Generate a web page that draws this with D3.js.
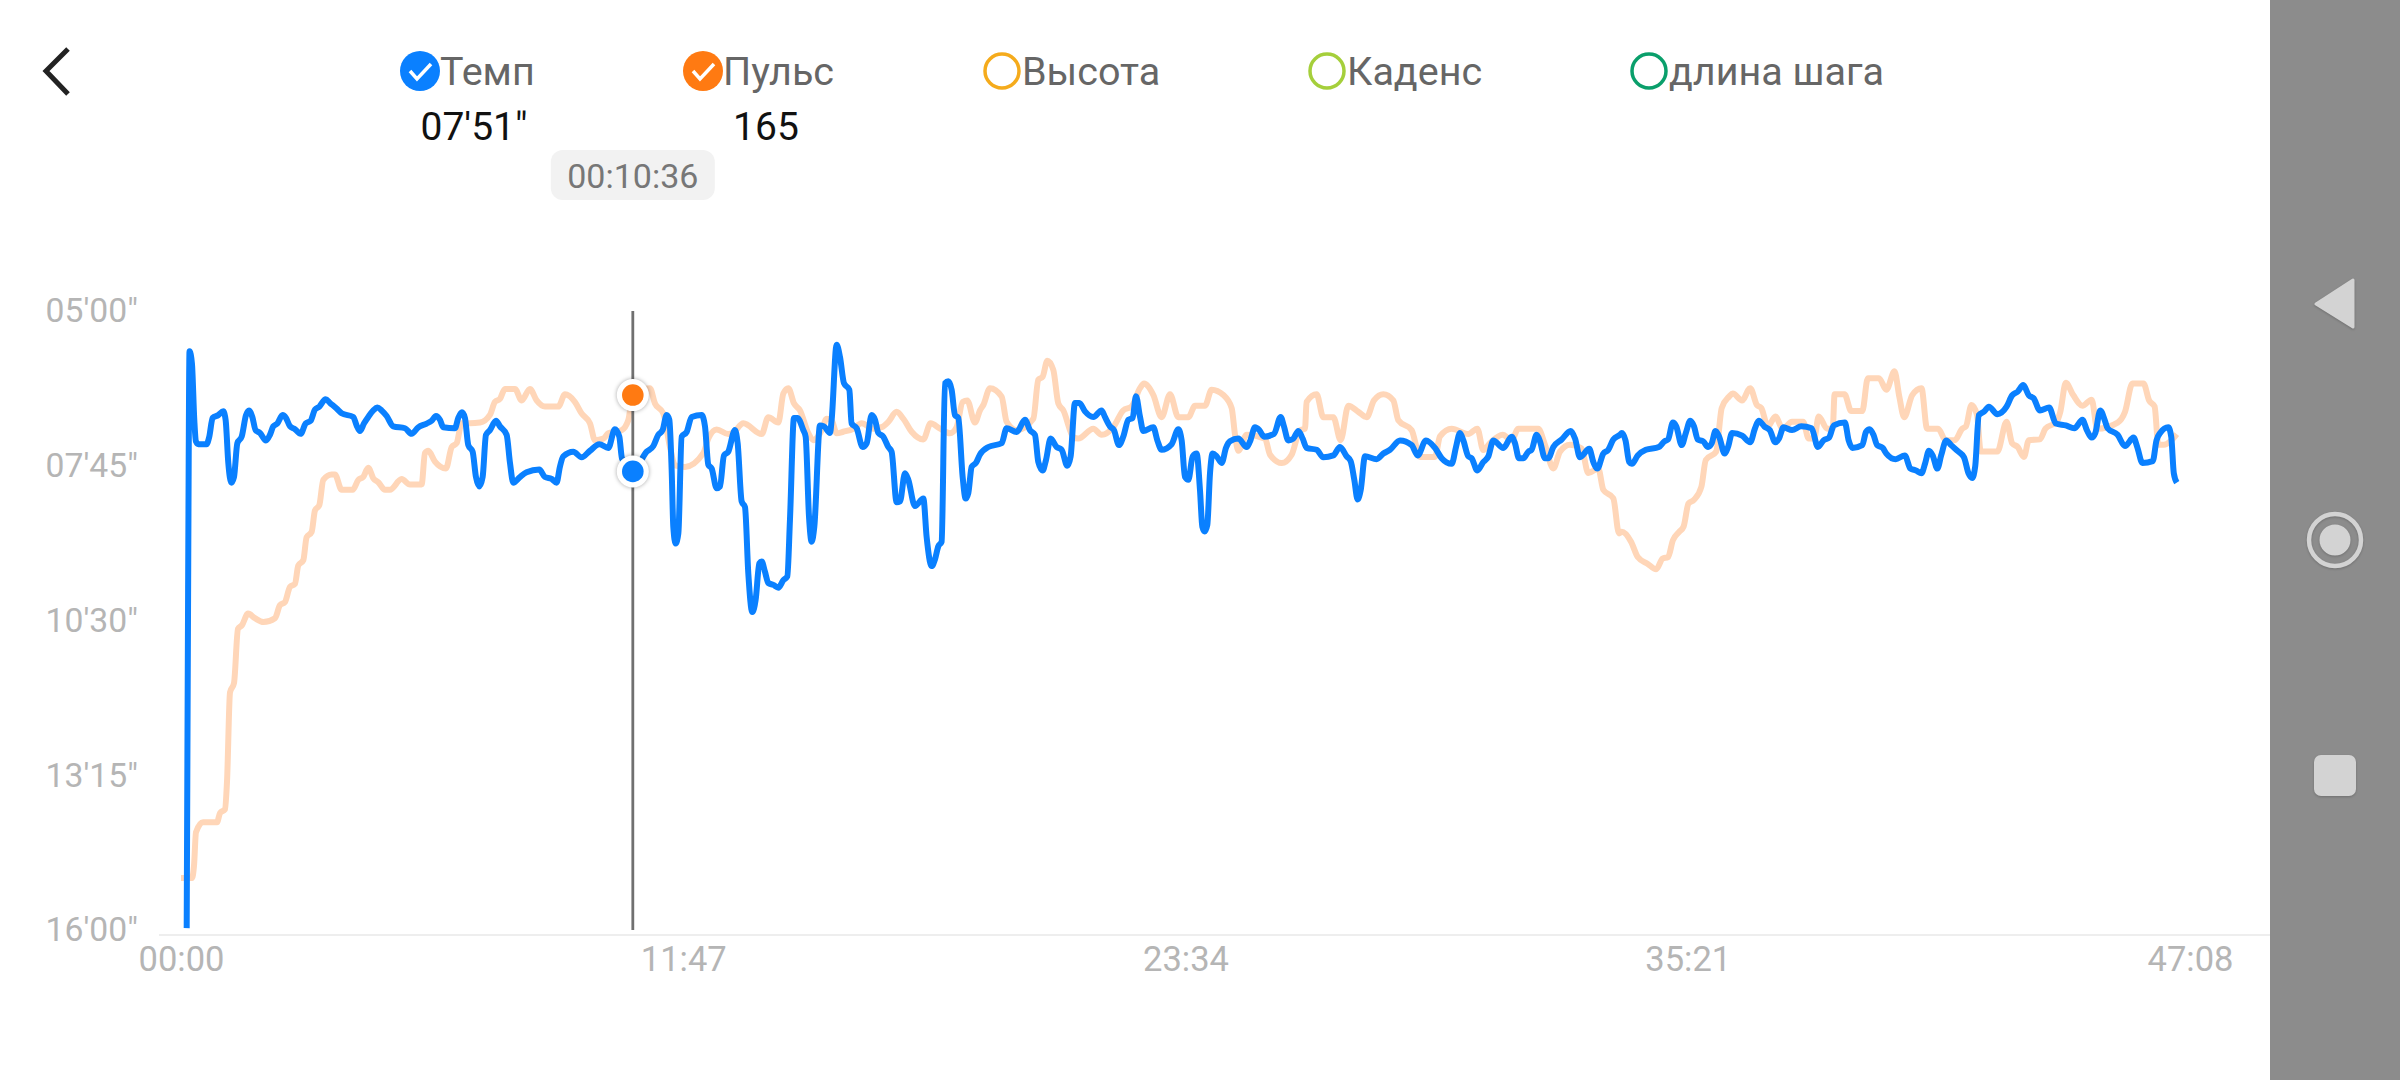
<!DOCTYPE html>
<html>
<head>
<meta charset="utf-8">
<title>Темп и пульс</title>
<script src="https://cdn.jsdelivr.net/npm/d3@7"></script>
<style>
  html, body { margin: 0; padding: 0; background: #fff; }
  svg { display: block; }
  text { font-family: Roboto, sans-serif; }
</style>
</head>
<body>
<script>
// legend
const legendLabels = ["Темп", "Пульс", "Высота", "Каденс", "длина шага"];
const legendColors = ["#0a80ff", "#ff7a12", "#f5ab1c", "#a5cf3b", "#0a9f6b"];
const legendChecked = [true, true, false, false, false];
const legendValues = ["07'51\"", "165", "", "", ""];

// axes, all times in seconds
const paceTicks = [300, 465, 630, 795, 960];
const timeTicks = [0, 707, 1414, 2121, 2828];

// cursor
const cursorTime = 636;
const cursorPace = 471;
const cursorPulse = 165;
const cursorLabel = "00:10:36";

// pace: seconds per km
const paceTimes = [8,10,12,15.4,18.7,21,24.4,36,39.8,44.5,52.5,59.5,62.8,66.6,70.8,74.6,79.3,85.4,91.5,95.7,100.4,105,111.2,119.6,125.2,129.9,135.6,143,147.8,153.4,160.4,168.4,175.4,182.5,188.6,194.7,203.6,209.7,219,226.1,242.5,247.2,251.9,257.5,263.6,270.7,276.3,282.4,289.5,298.8,315.3,324.6,334,345.8,352.8,358.9,364.5,369.2,385.6,390.3,395.5,399.7,404.4,410.5,415.2,419.9,424.6,429.3,434.9,443.4,449,458.4,463.1,467.7,477.1,486.5,504.3,512.3,521.7,528.7,533.4,538.1,552.2,563.9,575.7,588.8,601.5,610.8,617,620.7,636,
  655.5,664.9,671.9,678,683.6,687.4,690.7,693,696.3,700.1,704.8,711.8,718.8,732.9,737.6,742.3,747,754,758.7,764.3,770.4,779.8,783.6,789.2,793.9,798.6,804.2,808.9,814.1,817.4,822,826.7,833.8,840.8,847.9,853.5,857.2,862.9,867.6,876,879.3,884,887.7,891.5,899.5,905.1,913.6,915.9,922.9,927.6,933.2,940.8,944,951.1,959.5,965.2,972.2,976.9,981.6,988.6,995.7,1000.3,1007.4,1012.1,1019.1,1023.8,1033.2,1045,1049.6,1056.7,1061.3,1066,1070.7,1075.4,1080.1,1084.8,1089.5,1094.2,1100.3,1104.5,1108.3,1113,1119,1124.7,1136.4,1155.2,1162.2,1176.3,1188,1195,1202.1,1206.8,1212.9,1217.6,1224.1,1232.6,1239.6,1247.6,1252.3,1258.4,1264.5,1272.5,1284.2,1295.9,1300.6,1307.7,1313.3,1320.3,1326.4,1333.5,1339.6,1344.3,
  1350,1354.6,1368.7,1374.4,1380.4,1394.5,1403.9,1408.6,1413.3,1418,1424.1,1429.7,1434.4,1437.7,1441,1444.7,1448.5,1452.2,1457.9,1464.9,1471,1476.6,1488.4,1500.1,1504.8,1511.8,1517.9,1524.5,1538.6,1548,1552.6,1558.7,1565.8,1572.8,1578.9,1584.5,1598.6,1608,1622.1,1631.5,1640.9,1646.5,1651.6,1656.3,1660.6,1666.7,1683.1,1692.5,1701.9,1715.9,1732.4,1740.8,1752.5,1765.2,1774.6,1788.7,1794.8,1800.4,1805.1,1812.1,1816.8,1824.8,1833.2,1840.3,1847.3,1861.4,1873.1,1877.8,1883.4,1889.5,1896.6,1901.2,1908.3,1913,1920,1924.7,1931.8,1943.5,1956.1,1962.3,1969.3,1982.4,1988.1,1993.7,2002.1,2009.2,2016.2,2025.6,
  2028.2,2033.4,2038.6,2042.3,2050.6,2062,2080.3,2088.1,2093.3,2100.1,2104.8,2112.6,2118.3,2124.6,2129.8,2135,2142.8,2149.6,2154.8,2160,2165.2,2173,2177.7,2183.4,2197.5,2208.9,2215.7,2220.9,2228.7,2236.5,2244.3,2249.5,2255.8,2267.8,2280.8,2295.4,2304.2,2312,2319.9,2326.6,2342.2,2347.5,2352.7,2366.7,2371.9,2377.1,2382.4,2387.6,2395.4,2400.6,2413.6,2426.6,2434.4,2442.2,2450,2455.3,2460.5,2465.7,2472.4,2477.7,2484.9,2491.7,2502.1,2509.9,2516.2,2521.4,2525.6,2530.8,2538.6,2544.8,2556.8,2569.8,2577.6,2585.5,2593.3,2601.1,2607.9,2616.7,2629.7,2639.1,2653.2,2665.2,2676.6,2682.8,2689.6,2694.8,2701.6,2707.8,2712,2726.1,2736.5,2748.5,2753.7,2761,2775.6,2780.8,2786,2797.4,2801.6,2805.2,2809.4];
const paceValues = [958,600,343,356,416,439,442,442,434,414,411,407,416,462,483,477,441,434,411,406,413,427,430,438,432,423,420,411,414,423,426,431,420,417,405,402,394,398,404,409,413,422,428,420,413,406,403,406,412,423,425,431,424,420,417,412,416,424,425,414,408,414,443,450,477,487,477,432,427,417,423,432,462,483,477,472,469,477,479,483,466,455,450,456,449,442,446,426,434,457,471,
  450,444,432,427,411,416,470,530,548,537,434,429,413,411,423,464,468,489,487,454,450,427,441,503,509,580,621,608,569,567,578,590,592,595,587,583,523,414,414,427,434,519,546,530,422,423,430,416,336,349,377,384,420,425,445,441,411,416,430,434,445,450,504,503,473,480,508,500,541,572,565,551,546,377,375,384,411,414,477,500,494,466,462,453,445,441,425,429,416,427,432,461,470,459,436,445,448,465,455,398,398,407,413,406,413,423,427,443,434,416,414,391,
  413,428,424,438,448,442,426,438,477,480,455,452,491,530,535,528,473,452,455,462,446,439,436,445,439,424,427,434,431,413,423,438,436,428,436,446,448,456,454,445,455,460,480,501,491,455,458,452,448,438,443,454,438,446,457,463,445,430,438,455,457,470,461,455,438,446,434,441,457,457,450,448,432,439,457,457,445,437,428,436,456,447,461,468,452,448,437,432,
  430,438,461,463,454,448,445,439,437,419,423,443,430,417,423,437,439,445,441,428,434,452,445,430,433,440,425,417,423,427,440,436,424,427,423,425,445,438,435,422,419,438,446,443,429,426,432,443,446,452,458,454,468,470,473,462,449,454,468,454,438,443,450,456,473,478,466,411,407,402,410,402,390,386,379,390,393,406,403,420,422,425,416,427,435,430,406,416,425,432,444,435,445,462,460,438,430,424,434,473,483];

// pulse: beats per minute on a hidden scale
const pulseTimes = [0,15.5,18.3,21.1,31,50.7,54.9,61.9,64.8,69,74.6,80.2,85.9,94.3,104.1,115.9,132.3,139.3,146.3,153.4,160.4,165.1,172.2,176.8,183.9,188.6,194.7,200.3,212,216.7,226.1,241.6,249.6,256.6,263.6,270.7,277.7,287.1,294.1,310.6,322.3,338.7,343.4,348.1,357.5,373,381,388,395,406.8,420.8,434.9,441.9,449,456,470.1,479.5,491.2,500.6,512.3,531.1,540.5,554.5,563.9,575.7,582.7,594.4,601.5,620.2,629.6,636,660,
  667.2,678.9,688.3,695.4,709.4,735.2,742.3,754,770.4,777.5,791.6,817.4,826.7,840.8,847.9,854.9,862.9,871.3,883,890.1,901.8,908.9,915.9,922.9,932.3,946.4,958.1,974.5,986.3,995.7,1007.4,1016.8,1028.5,1044.9,1055.2,1068.4,1082.5,1091.8,1100.3,1106.8,1117.6,1124.7,1129.4,1138.8,1155.2,1162.2,1176.3,1199.8,1206.8,1212.9,1219.5,1227.9,1235,1242,1256.1,1263.1,1284.2,1295.9,1312.4,1326.4,1338.2,1349.9,
  1355.6,1361.7,1368.7,1380.4,1392.2,1403.9,1418,1427.4,1441.4,1450.8,1467.3,1479,1483.7,1488.4,1500.1,1525.9,1533,1549.4,1563.4,1575.2,1582.2,1584.5,1598.6,1608,1622.1,1632.4,1643.2,1657.3,1669,1679.3,1692.5,1706.5,1713.6,1732.4,1744.1,1765.2,1772.2,1788.7,1812.1,1824.8,1833.2,1842.6,1860.4,1873.1,1882.5,1910.6,1920,1931.8,1941.1,1955.2,1971.6,1981,1995.1,2002.1,2016.2,2024.2,
  2028.2,2041.2,2050.6,2064.7,2076.6,2085.5,2093.3,2100.1,2108.9,2115.2,2122,2129.8,2140.2,2146.4,2161,2168.8,2179.2,2184.4,2197.5,2208.9,2218.3,2224.5,2233.9,2244.3,2254.8,2267.8,2283.4,2291.2,2299,2305.3,2317.2,2325.1,2327.7,2341.7,2351.1,2366.7,2374.5,2390.2,2400.6,2412,2418.8,2425.6,2437,2450,2457.9,2473.5,2483.9,2496.9,2507.3,2512.6,2520.4,2528.2,2533.4,2556.8,2569.8,2577.6,2585.5,2594.3,2601.1,2616.7,2624.5,2640.2,2645.4,2653.2,2663.6,2676.6,2689.6,2697.4,2726.1,2736.5,2746.9,2762.6,2770.4,2778.2,2783.4,2791.2,2809.4];
const pulseValues = [101.8,101.8,103.4,107.8,109.1,109.1,110.3,110.8,114.5,126.1,127.3,134.4,134.9,136.4,135.8,135.3,135.8,137.5,137.9,139.9,140.3,142.7,143.4,146.4,147.1,149.9,150.6,153.9,154.6,154.6,152.6,152.6,153.9,154.3,155.5,154.1,153.6,152.6,152.6,154,153.3,153.3,157.4,157.7,156.3,155.4,158.2,158.7,161.3,161.3,161.4,162.4,164.1,164.5,165.8,165.8,164.3,165.8,164.3,163.5,163.5,165.1,164.1,162.6,161.3,159.1,159.3,160,160.4,161.7,165,165.9,
  163.9,162.6,158.2,155.8,155.6,157.4,159.3,160.5,159.9,160.1,161.3,159.9,162.1,161.4,165.2,165.9,163.9,163,160,159.1,160.4,161.9,161.7,160,160.2,160.6,161.3,160.6,160.8,161.5,162.8,161.9,160.2,159.2,161.3,160.6,160,160.8,164.1,164.3,161.4,163,163.7,165.9,164.8,161.5,160.4,161.9,167,167.4,169.5,168.3,163.9,163,159.5,159.3,160.6,159.8,160.8,163,163.5,165.9,
  166.5,166.1,165,162.1,165.1,162.1,162.1,163.6,163.6,165.7,165,163.3,159.8,157.7,159.8,159.3,157.2,156.1,157.2,160.4,160.6,164.1,165.1,162.1,162.1,159.1,163.6,162.8,162.1,164.3,165.1,164.3,161.7,160.4,156.9,156.9,159.6,160.6,159.9,160.6,157.8,158.7,159.8,159.1,160.6,160.6,158.5,155.4,157.6,158.5,158,154.8,155.4,152.6,151.5,146.9,
  147.1,145.8,143.8,142.9,142.2,143.6,143.8,146,147.1,147.8,150.8,151.3,153,156.5,157.6,163.3,164.8,165.2,164.3,165.9,163.7,163.3,160.9,162.2,160.6,161.5,161.5,159.3,159.3,162.2,160.6,160.6,165.1,165.1,162.9,162.9,167.2,167.2,165.7,168.1,164.8,162.1,165,165.9,160.6,160.6,159.1,159.1,160.6,160.9,163.7,162.4,157.6,157.6,161.5,158.7,158.2,156.9,159.1,159.2,160.6,161.5,162.8,166.6,165,163.6,164.4,160.6,161.4,162.8,166.5,166.5,164.3,163.5,158.5,158.5,159.9];

const width = 2400;
const height = 1080;

const pace = paceTimes.map((t, i) => ({t: t, v: paceValues[i]}));
const pulse = pulseTimes.map((t, i) => ({t: t, v: pulseValues[i]}));

// scales
const x = d3.scaleLinear().domain([0, 2828]).range([181, 2190]);
const yPace = d3.scaleLinear().domain([300, 960]).range([311, 930]);
const yPulse = d3.scaleLinear().domain([95, 176]).range([930, 311]);

function fmtPace(s) {
  return d3.format("02")(Math.floor(s / 60)) + "'" + d3.format("02")(s % 60) + '"';
}
function fmtTime(s) {
  return d3.format("02")(Math.floor(s / 60)) + ":" + d3.format("02")(s % 60);
}

const svg = d3.select("body").append("svg")
  .attr("width", width)
  .attr("height", height)
  .style("background", "#fff");

// back arrow
svg.append("path")
  .attr("d", "M68,49L46,71L68,94")
  .attr("fill", "none")
  .attr("stroke", "#222")
  .attr("stroke-width", 5);

// legend: circle x, text is placed right next to it
const legendX = [420, 703, 1002, 1327, 1649];
const legendValueX = [474, 766];
const legend = svg.append("g").selectAll("g")
  .data(legendLabels)
  .join("g")
  .attr("transform", (d, i) => "translate(" + legendX[i] + ",71)");

legend.append("circle")
  .attr("r", (d, i) => legendChecked[i] ? 20 : 17)
  .attr("fill", (d, i) => legendChecked[i] ? legendColors[i] : "#fff")
  .attr("stroke", (d, i) => legendColors[i])
  .attr("stroke-width", (d, i) => legendChecked[i] ? 0 : 3.5);

legend.filter((d, i) => legendChecked[i]).append("path")
  .attr("d", "M-10,0L-3,8L11,-7")
  .attr("fill", "none")
  .attr("stroke", "#fff")
  .attr("stroke-width", 3.5);

legend.append("text")
  .attr("x", 20)
  .attr("dy", "0.36em")
  .attr("font-size", 39.5)
  .attr("fill", "#666")
  .text(d => d);

svg.append("g").selectAll("text")
  .data(legendValues.filter(d => d != ""))
  .join("text")
  .attr("x", (d, i) => legendValueX[i])
  .attr("y", 126)
  .attr("dy", "0.36em")
  .attr("text-anchor", "middle")
  .attr("font-size", 39)
  .attr("fill", "#111")
  .text(d => d);

// axes
const yAxis = d3.axisLeft(yPace).tickValues(paceTicks).tickFormat(fmtPace).tickSize(0).tickPadding(0);
svg.append("g")
  .attr("transform", "translate(138,0)")
  .call(yAxis)
  .call(g => g.select(".domain").remove())
  .selectAll("text")
  .attr("font-family", "Roboto, sans-serif")
  .attr("font-size", 33.7)
  .attr("fill", "#b5b5b5");

svg.append("line")
  .attr("x1", 159).attr("x2", 2270)
  .attr("y1", 935).attr("y2", 935)
  .attr("stroke", "#eeeeee")
  .attr("stroke-width", 2);

const xAxis = d3.axisBottom(x).tickValues(timeTicks).tickFormat(fmtTime).tickSize(0).tickPadding(12);
svg.append("g")
  .attr("transform", "translate(0,935)")
  .call(xAxis)
  .call(g => g.select(".domain").remove())
  .selectAll("text")
  .attr("font-family", "Roboto, sans-serif")
  .attr("font-size", 34.5)
  .attr("fill", "#b5b5b5");

// lines
const linePulse = d3.line().x(d => x(d.t)).y(d => yPulse(d.v)).curve(d3.curveMonotoneX);
const linePace = d3.line().x(d => x(d.t)).y(d => yPace(d.v)).curve(d3.curveMonotoneX);

svg.append("path")
  .datum(pulse)
  .attr("d", linePulse)
  .attr("fill", "none")
  .attr("stroke", "#ffd6b8")
  .attr("stroke-width", 6)
  .attr("stroke-linejoin", "round");

svg.append("path")
  .datum(pace)
  .attr("d", linePace)
  .attr("fill", "none")
  .attr("stroke", "#0a80ff")
  .attr("stroke-width", 6)
  .attr("stroke-linejoin", "round");

// cursor and tooltip
svg.append("line")
  .attr("x1", x(cursorTime)).attr("x2", x(cursorTime))
  .attr("y1", yPace(300)).attr("y2", yPace(960))
  .attr("stroke", "#707070")
  .attr("stroke-width", 2.8);

svg.append("rect")
  .attr("x", x(cursorTime) - 82)
  .attr("y", 150)
  .attr("width", 164)
  .attr("height", 50)
  .attr("rx", 12)
  .attr("fill", "#f2f2f2");

svg.append("text")
  .attr("x", x(cursorTime))
  .attr("y", 176)
  .attr("dy", "0.36em")
  .attr("text-anchor", "middle")
  .attr("font-size", 34)
  .attr("fill", "#777")
  .text(cursorLabel);

const markers = [
  {cy: yPulse(cursorPulse), color: "#ff7a12"},
  {cy: yPace(cursorPace), color: "#0a80ff"}
];
markers.forEach(function(m) {
  svg.append("circle")
    .attr("cx", x(cursorTime)).attr("cy", m.cy)
    .attr("r", 16)
    .attr("fill", "#fff")
    .style("filter", "drop-shadow(0 0 2px rgba(0,0,0,0.35))");
  svg.append("circle")
    .attr("cx", x(cursorTime)).attr("cy", m.cy)
    .attr("r", 10.8)
    .attr("fill", m.color);
});

// android nav bar on the right
svg.append("rect")
  .attr("x", 2270).attr("y", 0)
  .attr("width", 130).attr("height", height)
  .attr("fill", "#8c8c8c");

const nav = svg.append("g").style("filter", "drop-shadow(0 1px 1px rgba(0,0,0,0.2))");
nav.append("path")
  .attr("d", "M2316,304L2353,280L2353,327Z")
  .attr("fill", "#d3d3d3")
  .attr("stroke", "#d3d3d3")
  .attr("stroke-width", 3)
  .attr("stroke-linejoin", "round");
nav.append("circle")
  .attr("cx", 2335).attr("cy", 540).attr("r", 26)
  .attr("fill", "none")
  .attr("stroke", "#d3d3d3")
  .attr("stroke-width", 4.5);
nav.append("circle")
  .attr("cx", 2335).attr("cy", 540).attr("r", 15.5)
  .attr("fill", "#d3d3d3");
nav.append("rect")
  .attr("x", 2314).attr("y", 755)
  .attr("width", 42).attr("height", 41)
  .attr("rx", 7)
  .attr("fill", "#d3d3d3");
</script>
</body>
</html>
